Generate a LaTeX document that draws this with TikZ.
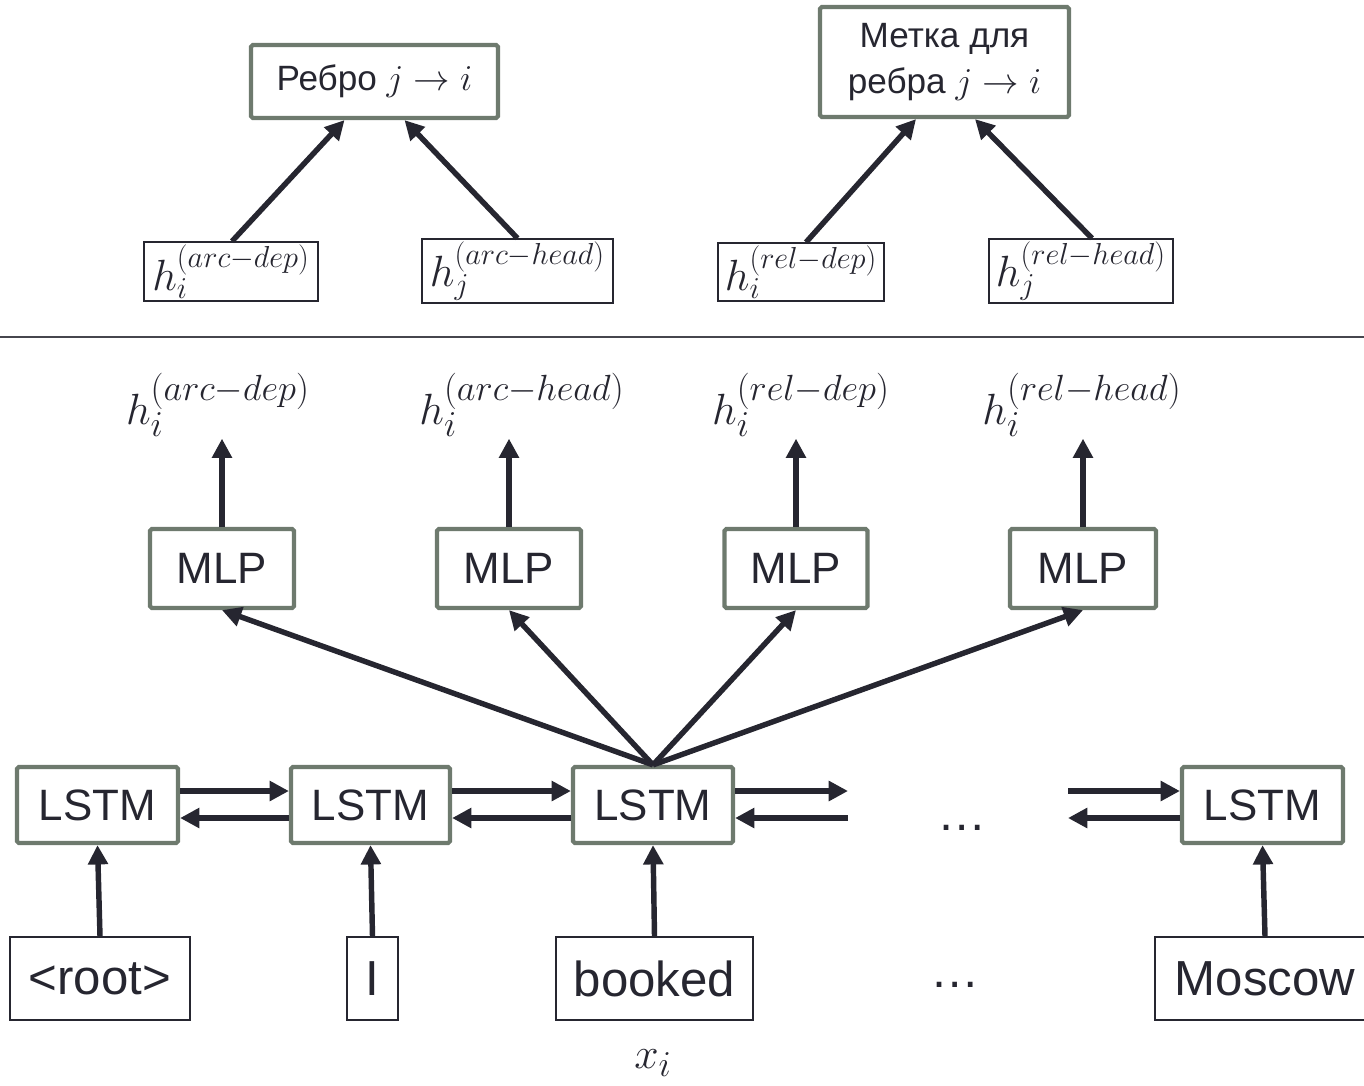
\documentclass[tikz,border=0pt]{standalone}
\usepackage{fontspec}
\setmainfont{Liberation Sans}
\usepackage{tikz}
\usetikzlibrary{arrows.meta,positioning}
\definecolor{ink}{RGB}{38,38,48}
\definecolor{boxgray}{RGB}{110,122,110}
\definecolor{rulegray}{RGB}{70,70,78}

\begin{document}
\begin{tikzpicture}[x=0.02cm, y=-0.02cm,
  graybox/.style={draw=boxgray, line width=2.4pt, fill=white, rounded corners=1pt, inner sep=0pt, text=ink},
  thinbox/.style={draw=ink, line width=0.8pt, fill=white, inner sep=0pt, text=ink},
  arr/.style={draw=ink, line width=3.1pt, -{Triangle[length=11pt,width=11pt]}},
  hlabel/.style={text=ink, inner sep=1pt, font=\fontsize{29}{32}\selectfont}]
  \useasboundingbox (0,0) rectangle (1364,1085);

  % upper part: scoring
  \node[graybox, minimum width=4.94cm, minimum height=1.46cm, font=\fontsize{20}{24}\selectfont] (arcbox) at (374.5,81.5) {Ребро $j\to i$};
  \node[graybox, minimum width=4.98cm, minimum height=2.2cm, align=center, font=\fontsize{20}{26}\selectfont] (relbox) at (944.5,62) {Метка для\\ребра $j\to i$};

  \node[thinbox, minimum width=3.48cm, minimum height=1.18cm, font=\fontsize{26}{28}\selectfont] (topadep) at (231,271.5) {$h_i^{(arc-dep)}$};
  \node[thinbox, minimum width=3.82cm, minimum height=1.28cm, font=\fontsize{26}{28}\selectfont] (topahead) at (517.5,271) {$h_j^{(arc-head)}$};
  \node[thinbox, minimum width=3.32cm, minimum height=1.16cm, font=\fontsize{26}{28}\selectfont] (toprdep) at (801,272) {$h_i^{(rel-dep)}$};
  \node[thinbox, minimum width=3.68cm, minimum height=1.28cm, font=\fontsize{26}{28}\selectfont] (toprhead) at (1081,271) {$h_j^{(rel-head)}$};

  \draw[arr] ([xshift=0.02cm]topadep.north) -- ([xshift=-0.6cm]arcbox.south);
  \draw[arr] (topahead.north) -- ([xshift=0.6cm]arcbox.south);
  \draw[arr] ([xshift=0.1cm]toprdep.north) -- ([xshift=-0.57cm]relbox.south);
  \draw[arr] ([xshift=0.22cm]toprhead.north) -- ([xshift=0.61cm]relbox.south);

  \draw[rulegray, line width=1.2pt] (0,337) -- (1364,337);

  % lower part: encoder
  \node[hlabel] (hadep) at (218,405) {$h_i^{(arc-dep)}$};
  \node[hlabel] (hahead) at (522,405) {$h_i^{(arc-head)}$};
  \node[hlabel] (hrdep) at (801,405) {$h_i^{(rel-dep)}$};
  \node[hlabel] (hrhead) at (1082,405) {$h_i^{(rel-head)}$};

  \node[graybox, minimum width=2.88cm, minimum height=1.58cm, font=\fontsize{25}{28}\selectfont] (mlpA) at (222,568.5) {MLP};
  \node[graybox, minimum width=2.88cm, minimum height=1.58cm, font=\fontsize{25}{28}\selectfont] (mlpB) at (509,568.5) {MLP};
  \node[graybox, minimum width=2.86cm, minimum height=1.58cm, font=\fontsize{25}{28}\selectfont] (mlpC) at (796,568.5) {MLP};
  \node[graybox, minimum width=2.92cm, minimum height=1.58cm, font=\fontsize{25}{28}\selectfont] (mlpD) at (1083,568.5) {MLP};

  \draw[arr] (mlpA.north) -- (mlpA.north |- hadep.south);
  \draw[arr] (mlpB.north) -- (mlpB.north |- hahead.south);
  \draw[arr] (mlpC.north) -- (mlpC.north |- hrdep.south);
  \draw[arr] (mlpD.north) -- (mlpD.north |- hrhead.south);

  \node[graybox, minimum width=3.22cm, minimum height=1.52cm, font=\fontsize{25}{30}\selectfont] (lstmA) at (97.5,805) {LSTM};
  \node[graybox, minimum width=3.18cm, minimum height=1.52cm, font=\fontsize{25}{30}\selectfont] (lstmB) at (370.5,805) {LSTM};
  \node[graybox, minimum width=3.2cm, minimum height=1.52cm, font=\fontsize{25}{30}\selectfont] (lstmC) at (653,805) {LSTM};
  \node[graybox, minimum width=3.22cm, minimum height=1.52cm, font=\fontsize{25}{30}\selectfont] (lstmD) at (1262.5,805) {LSTM};
  \coordinate (gapL) at (848,805);
  \coordinate (gapR) at (1068,805);
  \node[text=ink, font=\fontsize{28}{30}\selectfont] (dotsA) at (962,828) {…};

  \draw[arr] (lstmC.north) -- (mlpA.south);
  \draw[arr] (lstmC.north) -- (mlpB.south);
  \draw[arr] (lstmC.north) -- (mlpC.south);
  \draw[arr] (lstmC.north) -- (mlpD.south);

  \draw[arr] ([yshift=0.28cm]lstmA.east) -- ([yshift=0.28cm]lstmB.west);
  \draw[arr] ([yshift=-0.26cm]lstmB.west) -- ([yshift=-0.26cm]lstmA.east);
  \draw[arr] ([yshift=0.28cm]lstmB.east) -- ([yshift=0.28cm]lstmC.west);
  \draw[arr] ([yshift=-0.26cm]lstmC.west) -- ([yshift=-0.26cm]lstmB.east);
  \draw[arr] ([yshift=0.28cm]lstmC.east) -- ([yshift=0.28cm]gapL);
  \draw[arr] ([yshift=-0.26cm]gapL) -- ([yshift=-0.26cm]lstmC.east);
  \draw[arr] ([yshift=0.28cm]gapR) -- ([yshift=0.28cm]lstmD.west);
  \draw[arr] ([yshift=-0.26cm]lstmD.west) -- ([yshift=-0.26cm]gapR);

  % input words
  \node[thinbox, minimum width=3.6cm, minimum height=1.66cm, font=\fontsize{28}{30}\selectfont] (wroot) at (100,978.5) {<root>};
  \node[thinbox, minimum width=1.02cm, minimum height=1.66cm, font=\fontsize{28}{30}\selectfont] (wI) at (372.5,978.5) {I};
  \node[thinbox, minimum width=3.94cm, minimum height=1.66cm, font=\fontsize{28}{30}\selectfont] (wbooked) at (654.5,978.5) {booked};
  \node[thinbox, minimum width=4.4cm, minimum height=1.66cm, font=\fontsize{28}{30}\selectfont] (wmoscow) at (1265,978.5) {Moscow};
  \node[text=ink, font=\fontsize{28}{30}\selectfont] (dotsB) at (955,985) {…};
  \node[text=ink, font=\fontsize{28}{30}\selectfont] (xi) at (653,1063) {$x_i$};

  \draw[arr] (wroot.north) -- (lstmA.south);
  \draw[arr] (wI.north) -- (lstmB.south);
  \draw[arr] (wbooked.north) -- (lstmC.south);
  \draw[arr] (wmoscow.north) -- (lstmD.south);
\end{tikzpicture}
\end{document}
